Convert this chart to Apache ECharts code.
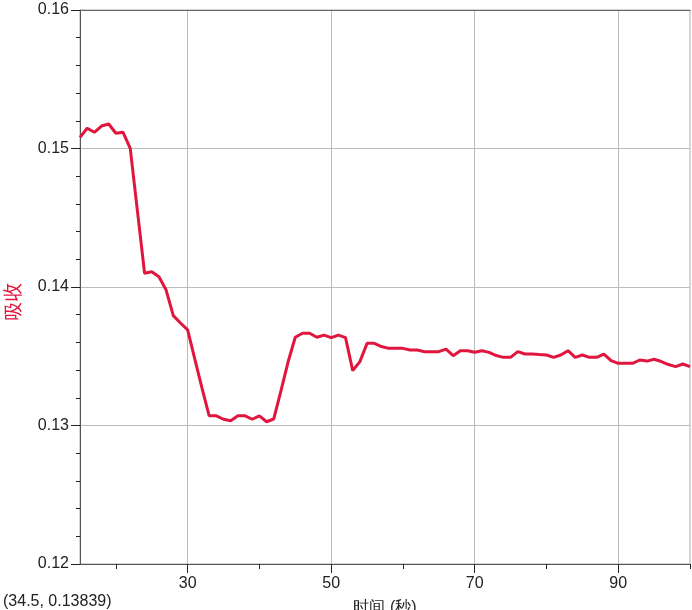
<!DOCTYPE html>
<html>
<head>
<meta charset="utf-8">
<script src="https://cdn.jsdelivr.net/npm/echarts@6/dist/echarts.min.js"></script>
<style>
  html, body { margin: 0; padding: 0; background: #fff; }
  #chart { width: 692px; height: 610px; }
</style>
</head>
<body>
<div id="chart"></div>
<script>
// 时间 (秒)
const times = [15, 16, 17, 18, 19, 20, 21, 22, 23, 24, 25, 26, 27, 28, 29, 30,
  31, 32, 33, 34, 35, 36, 37, 38, 39, 40, 41, 42, 43, 44, 45, 46, 47, 48, 49, 50,
  51, 52, 53, 54, 55, 56, 57, 58, 59, 60, 61, 62, 63, 64, 65, 66, 67, 68, 69, 70,
  71, 72, 73, 74, 75, 76, 77, 78, 79, 80, 81, 82, 83, 84, 85, 86, 87, 88, 89, 90,
  91, 92, 93, 94, 95, 96, 97, 98, 99, 100];
// 吸收
const absorb = [0.1508, 0.15146, 0.15117, 0.15162, 0.15177, 0.1511, 0.15117, 0.15001, 0.1455, 0.14099,
  0.1411, 0.14074, 0.13978, 0.13793, 0.1374, 0.1369,
  0.1348, 0.1327, 0.1307, 0.1307, 0.13045, 0.13035, 0.1307, 0.1307, 0.13045, 0.1307,
  0.13027, 0.13047, 0.1325, 0.1346, 0.13637, 0.13666, 0.13666, 0.13637, 0.13653, 0.13634,
  0.13653, 0.13634, 0.13396, 0.13461, 0.13593, 0.13593, 0.1357, 0.13557, 0.13557, 0.13557,
  0.13545, 0.13545, 0.13533, 0.13533, 0.13533, 0.13552, 0.13504, 0.1354, 0.1354, 0.13529,
  0.1354, 0.13528, 0.13505, 0.13492, 0.13492, 0.13533, 0.13516, 0.13516, 0.13512, 0.13509,
  0.13492, 0.13509, 0.1354, 0.13492, 0.13509, 0.13492, 0.13492, 0.13516, 0.13468, 0.13449,
  0.13449, 0.13449, 0.13473, 0.13465, 0.13478, 0.13462, 0.1344, 0.13425, 0.13444, 0.13425];

const majorTicks = [30, 50, 70, 90];
const minorTicks = [20, 40, 60, 80, 100];
const cursorText = '(34.5, 0.13839)';

const font = 'Liberation Sans, Arial, sans-serif';
const lineColor = '#e0163e';

const chart = echarts.init(document.getElementById('chart'));

const xBase = { type: 'value', min: 15, max: 100, position: 'bottom' };

const option = {
  animation: false,
  grid: { left: 80, right: 2, top: 10, bottom: 46, outerBoundsMode: 'none',
    show: true, borderColor: '#aaa', borderWidth: 1 },
  xAxis: [
    // 短刻度
    Object.assign({}, xBase, {
      axisLine: { lineStyle: { color: '#555' } },
      axisTick: { customValues: minorTicks, length: 5, lineStyle: { color: '#222' } },
      axisLabel: { show: false },
      splitLine: { show: false }
    }),
    // 长刻度 + 标签 + 网格
    Object.assign({}, xBase, {
      axisLine: { lineStyle: { color: '#555' } },
      axisTick: { customValues: majorTicks, length: 9, lineStyle: { color: '#222' } },
      axisLabel: { customValues: majorTicks, margin: 12, fontSize: 16, color: '#222', fontFamily: font },
      splitLine: { show: true, lineStyle: { color: '#bbb' } },
      name: '时间 (秒)', nameLocation: 'middle', nameGap: 36,
      nameTextStyle: { fontSize: 16, color: '#222', fontFamily: font }
    }),
    // 顶部边框
    Object.assign({}, xBase, {
      position: 'top',
      axisLine: { lineStyle: { color: '#666' } },
      axisTick: { show: false },
      axisLabel: { show: false },
      splitLine: { show: false }
    })
  ],
  yAxis: {
    type: 'value',
    min: 0.12,
    max: 0.16,
    interval: 0.01,
    axisLine: { show: true, lineStyle: { color: '#555' } },
    axisTick: { show: true, length: 9, lineStyle: { color: '#222' } },
    minorTick: { show: true, splitNumber: 5, length: 4, lineStyle: { color: '#222' } },
    axisLabel: { margin: 11, fontSize: 16, color: '#222', fontFamily: font,
      formatter: v => v.toFixed(2) },
    splitLine: { show: true, showMaxLine: false, lineStyle: { color: '#bbb' } }
  },
  graphic: [
    {
      type: 'text', left: 3, top: 594,
      style: { text: cursorText, fontSize: 16, fill: '#222', fontFamily: font }
    },
    {
      type: 'text', x: 13, y: 302, rotation: Math.PI / 2,
      style: { text: '吸收', fontSize: 19, fill: lineColor, fontFamily: 'Noto Sans CJK SC',
        align: 'center', verticalAlign: 'middle' }
    }
  ],
  series: [{
    type: 'line',
    name: '吸收',
    xAxisIndex: 0,
    data: times.map((t, i) => [t, absorb[i]]),
    showSymbol: false,
    lineStyle: { color: lineColor, width: 3 },
    itemStyle: { color: lineColor }
  }]
};

chart.setOption(option);
</script>
</body>
</html>
